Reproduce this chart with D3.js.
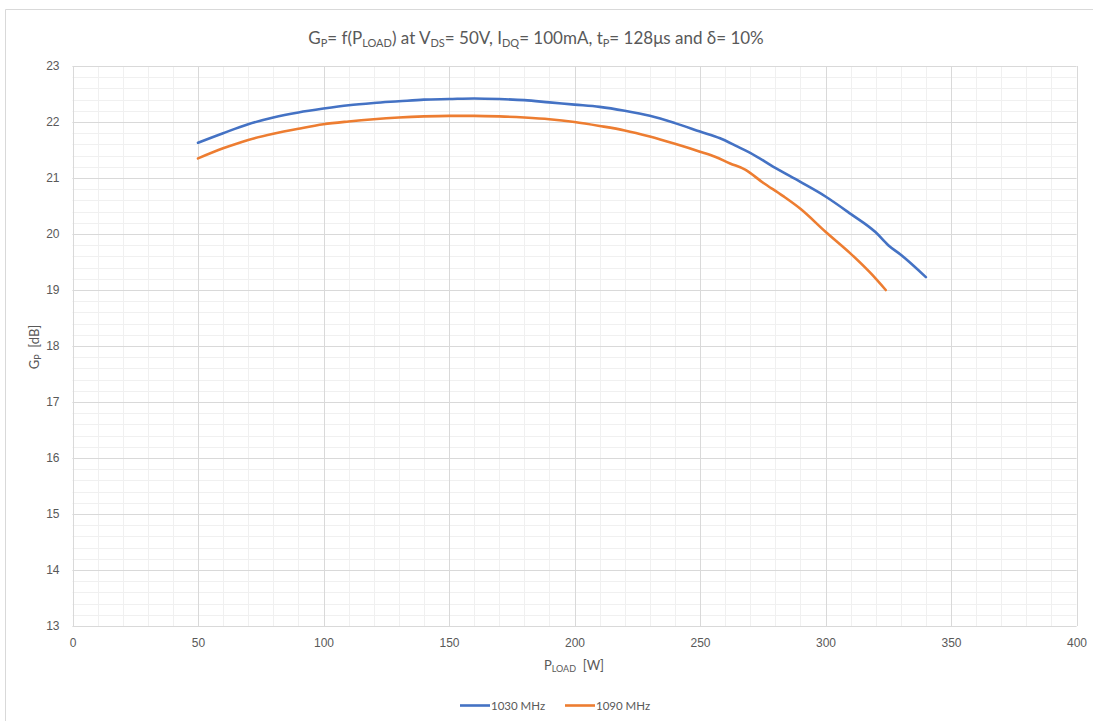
<!DOCTYPE html>
<html lang="en">
<head>
<meta charset="UTF-8">
<title>Gp vs Pload</title>
<script src="https://cdn.jsdelivr.net/npm/d3@7"></script>
<style>
    body { margin: 0; background: #fff; }
    svg { display: block; font-family: Lato, "Open Sans", sans-serif; }
    .tick text { fill: #595959; font-size: 12px; }
</style>
</head>
<body>
<div id="wrap"></div>
<script>
// data
var seriesNames = ['1030 MHz', '1090 MHz'];
var seriesColors = ['#4472C4', '#ED7D31'];

var p1030 = [50, 60, 70, 80, 90, 100, 110, 120, 130, 140, 150, 160, 170, 180, 190, 200, 210, 220, 230, 240, 250, 258, 265, 270, 280, 290, 300, 310, 320, 325, 330, 340];
var g1030 = [21.63, 21.80, 21.96, 22.08, 22.17, 22.24, 22.30, 22.34, 22.37, 22.40, 22.41, 22.42, 22.41, 22.39, 22.35, 22.31, 22.27, 22.20, 22.11, 21.98, 21.83, 21.71, 21.56, 21.45, 21.18, 20.93, 20.67, 20.36, 20.03, 19.80, 19.63, 19.23];

var p1090 = [50, 60, 70, 80, 90, 100, 110, 120, 130, 140, 150, 160, 170, 180, 190, 200, 210, 220, 230, 240, 250, 256, 262, 268, 275, 283, 290, 300, 310, 318, 324];
var g1090 = [21.35, 21.53, 21.68, 21.79, 21.88, 21.96, 22.01, 22.05, 22.08, 22.10, 22.11, 22.11, 22.10, 22.08, 22.05, 22.00, 21.93, 21.85, 21.74, 21.61, 21.47, 21.38, 21.26, 21.15, 20.92, 20.68, 20.45, 20.04, 19.65, 19.30, 19.00];

var xTicks = [0, 50, 100, 150, 200, 250, 300, 350, 400];
var yTicks = [13, 14, 15, 16, 17, 18, 19, 20, 21, 22, 23];

// layout
var WIDTH = 1093, HEIGHT = 721;
var LEFT = 72.5, RIGHT = 1076.5, TOP = 66, BOTTOM = 626;

var svg = d3.select('#wrap').append('svg')
    .attr('width', WIDTH).attr('height', HEIGHT);

// outer frame (only top and left visible in the crop)
svg.append('path')
    .attr('d', 'M5.5,' + HEIGHT + 'V9.5H' + WIDTH)
    .attr('fill', 'none').attr('stroke', '#d9d9d9');

var x = d3.scaleLinear().domain([0, 400]).range([LEFT, RIGHT]);
var y = d3.scaleLinear().domain([13, 23]).range([BOTTOM, TOP]);

// minor grid
var g = svg.append('g');
g.selectAll('.vminor').data(d3.range(0, 401, 10)).enter().append('line')
    .attr('x1', function(d) { return Math.round(x(d)) + 0.5; })
    .attr('x2', function(d) { return Math.round(x(d)) + 0.5; })
    .attr('y1', TOP).attr('y2', BOTTOM)
    .attr('stroke', '#f0f0f0');
g.selectAll('.hminor').data(d3.range(130, 231, 2).map(function(d) { return d / 10; })).enter().append('line')
    .attr('y1', function(d) { return Math.round(y(d)) + 0.5; })
    .attr('y2', function(d) { return Math.round(y(d)) + 0.5; })
    .attr('x1', LEFT).attr('x2', RIGHT)
    .attr('stroke', '#f0f0f0');

// major grid
g.selectAll('.vmajor').data(xTicks).enter().append('line')
    .attr('x1', function(d) { return Math.round(x(d)) + 0.5; })
    .attr('x2', function(d) { return Math.round(x(d)) + 0.5; })
    .attr('y1', TOP).attr('y2', BOTTOM)
    .attr('stroke', '#d9d9d9');
g.selectAll('.hmajor').data(yTicks).enter().append('line')
    .attr('y1', function(d) { return Math.round(y(d)) + 0.5; })
    .attr('y2', function(d) { return Math.round(y(d)) + 0.5; })
    .attr('x1', LEFT).attr('x2', RIGHT)
    .attr('stroke', '#d9d9d9');

// axes (labels only)
var xAxis = svg.append('g')
    .attr('transform', 'translate(0,' + BOTTOM + ')')
    .call(d3.axisBottom(x).tickValues(xTicks).tickSize(0).tickPadding(12));
xAxis.select('.domain').remove();

var yAxis = svg.append('g')
    .attr('transform', 'translate(' + LEFT + ',0)')
    .call(d3.axisLeft(y).tickValues(yTicks).tickSize(0).tickPadding(13));
yAxis.select('.domain').remove();

// lines
var line = d3.line()
    .x(function(d) { return x(d[0]); })
    .y(function(d) { return y(d[1]); })
    .curve(d3.curveMonotoneX);

var series = [d3.zip(p1030, g1030), d3.zip(p1090, g1090)];
svg.append('g').selectAll('path').data(series).enter().append('path')
    .attr('d', line)
    .attr('fill', 'none')
    .attr('stroke', function(d, i) { return seriesColors[i]; })
    .attr('stroke-width', 2.6)
    .attr('stroke-linejoin', 'round')
    .attr('stroke-linecap', 'round');

// title
var title = svg.append('text')
    .attr('x', 536).attr('y', 44)
    .attr('text-anchor', 'middle')
    .attr('fill', '#595959')
    .style('font-size', '17px');
function addRun(t, sub) {
    var s = title.append('tspan').text(t);
    if (sub) s.attr('baseline-shift', '-25%').style('font-size', '11px');
}
addRun('G'); addRun('P', true);
addRun('= f(P'); addRun('LOAD', true);
addRun(') at V'); addRun('DS', true);
addRun('= 50V, I'); addRun('DQ', true);
addRun('= 100mA, t'); addRun('P', true);
addRun('= 128\u03bcs and \u03b4= 10%');

// axis titles
var xt = svg.append('text')
    .attr('x', 574).attr('y', 670)
    .attr('text-anchor', 'middle')
    .attr('fill', '#595959')
    .style('font-size', '13px');
xt.append('tspan').text('P');
xt.append('tspan').text('LOAD').attr('baseline-shift', '-25%').style('font-size', '9px');
xt.append('tspan').text('\u00a0\u00a0[W]');

var yt = svg.append('text')
    .attr('transform', 'translate(39,347) rotate(-90)')
    .attr('text-anchor', 'middle')
    .attr('fill', '#595959')
    .style('font-size', '13px');
yt.append('tspan').text('G');
yt.append('tspan').text('P').attr('baseline-shift', '-25%').style('font-size', '9px');
yt.append('tspan').text('\u00a0\u00a0[dB]');

// legend
var legendX = [460, 565];
var lg = svg.append('g').selectAll('g').data(seriesNames).enter().append('g')
    .attr('transform', function(d, i) { return 'translate(' + legendX[i] + ',705.5)'; });
lg.append('line')
    .attr('x1', 0).attr('x2', 30)
    .attr('stroke', function(d, i) { return seriesColors[i]; })
    .attr('stroke-width', 2.6);
lg.append('text')
    .attr('x', 31).attr('y', 4)
    .attr('fill', '#595959')
    .style('font-size', '11.5px')
    .text(function(d) { return d; });
</script>
</body>
</html>
